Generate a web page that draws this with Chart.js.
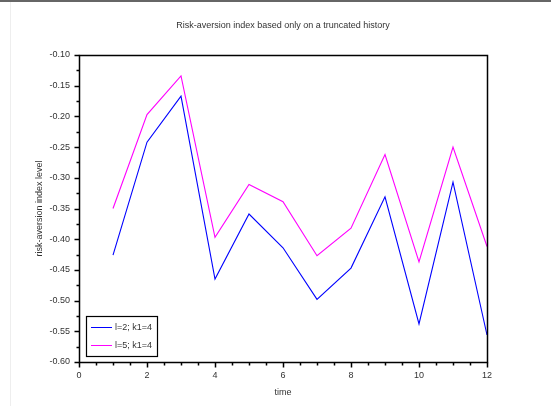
<!DOCTYPE html>
<html>
<head>
<meta charset="utf-8">
<script src="https://cdn.jsdelivr.net/npm/chart.js@4"></script>
<style>
  html, body { margin: 0; padding: 0; background: #fff; }
  canvas { display: block; }
</style>
</head>
<body>
<canvas id="chart" width="551" height="406"></canvas>
<script>
// values
const times = [1, 2, 3, 4, 5, 6, 7, 8, 9, 10, 11, 12];
const seriesL2 = [-0.426, -0.242, -0.167, -0.465, -0.359, -0.414, -0.498, -0.447, -0.331, -0.538, -0.307, -0.556];
const seriesL5 = [-0.350, -0.197, -0.134, -0.397, -0.311, -0.339, -0.427, -0.382, -0.262, -0.437, -0.250, -0.412];
const seriesNames = ["l=2; k1=4", "l=5; k1=4"];
const xTicks = [0, 2, 4, 6, 8, 10, 12];
const yTicks = [-0.60, -0.55, -0.50, -0.45, -0.40, -0.35, -0.30, -0.25, -0.20, -0.15, -0.10];

const TXT = "#333";
const FONT = "'Liberation Sans', Arial, sans-serif";

// white page with the thin frame lines
const framePlugin = {
    id: 'frame',
    beforeDraw(c) {
        const ctx = c.ctx;
        ctx.save();
        ctx.fillStyle = "#fff";
        ctx.fillRect(0, 0, c.width, c.height);
        ctx.fillStyle = "#666";
        ctx.fillRect(0, 0, c.width, 2);
        ctx.fillStyle = "#eee";
        ctx.fillRect(10, 2, 1, c.height);
        ctx.restore();
    }
};

// box round plot, major + minor ticks, legend inside the plot
const axesPlugin = {
    id: 'axesBox',
    afterDraw(c) {
        const ctx = c.ctx, a = c.chartArea;
        const xs = c.scales.x, ys = c.scales.y;
        const L = Math.round(a.left) + 0.5, R = Math.round(a.right) + 0.5;
        const T = Math.round(a.top) + 0.5, B = Math.round(a.bottom) + 0.5;
        ctx.save();
        ctx.strokeStyle = "#000";
        ctx.lineWidth = 1.5;
        ctx.strokeRect(L, T, R - L, B - T);

        ctx.beginPath();
        for (let k = 0; k <= 24; k++) {
            let px = Math.round(xs.getPixelForValue(k * 0.5)) + 0.5;
            let len = k % 4 === 0 ? 5 : 3;
            ctx.moveTo(px, B);
            ctx.lineTo(px, B + len);
        }
        for (let k = 0; k <= 20; k++) {
            let py = Math.round(ys.getPixelForValue(-0.60 + k * 0.025)) + 0.5;
            let len = k % 2 === 0 ? 5 : 3;
            ctx.moveTo(L, py);
            ctx.lineTo(L - len, py);
        }
        ctx.stroke();

        // legend
        const lx = 86, ly = 316, lw = 71, lh = 40;
        ctx.fillStyle = "#fff";
        ctx.fillRect(lx, ly, lw, lh);
        ctx.strokeStyle = "#000";
        ctx.lineWidth = 1.2;
        ctx.strokeRect(lx + 0.5, ly + 0.5, lw, lh);
        ctx.font = "9px " + FONT;
        ctx.textBaseline = "middle";
        ctx.lineWidth = 1;
        c.data.datasets.forEach((ds, i) => {
            let y = ly + 11.5 + i * 18;
            ctx.strokeStyle = ds.borderColor;
            ctx.beginPath();
            ctx.moveTo(lx + 5, y);
            ctx.lineTo(lx + 26, y);
            ctx.stroke();
            ctx.fillStyle = TXT;
            ctx.fillText(ds.label, lx + 29, y);
        });
        ctx.restore();
    }
};

new Chart(document.getElementById('chart'), {
    type: 'line',
    data: {
        datasets: [
            { label: seriesNames[0], data: times.map((t, i) => ({ x: t, y: seriesL2[i] })),
              borderColor: '#0000ff', borderWidth: 1.1, pointRadius: 0, fill: false, tension: 0 },
            { label: seriesNames[1], data: times.map((t, i) => ({ x: t, y: seriesL5[i] })),
              borderColor: '#ff00ff', borderWidth: 1.1, pointRadius: 0, fill: false, tension: 0 }
        ]
    },
    options: {
        responsive: false,
        animation: false,
        devicePixelRatio: 1,
        layout: { padding: { left: 0, top: 0, right: 64, bottom: 0 } },
        plugins: {
            legend: { display: false },
            tooltip: { enabled: false },
            title: {
                display: true,
                fullSize: false,
                text: 'Risk-aversion index based only on a truncated history',
                color: TXT,
                font: { family: FONT, size: 9, weight: 'normal' },
                padding: { top: 20.6, bottom: 23.6 }
            }
        },
        scales: {
            x: {
                type: 'linear',
                min: 0, max: 12,
                afterBuildTicks: s => { s.ticks = xTicks.map(v => ({ value: v })); },
                afterFit: s => { s.height = 44; },
                grid: { display: false, drawTicks: false, tickLength: 0 },
                border: { display: false },
                ticks: { color: TXT, font: { family: FONT, size: 9 }, padding: 8, maxRotation: 0 },
                title: { display: true, text: 'time', color: TXT, font: { family: FONT, size: 9 }, padding: { top: 0, bottom: 7.6 } }
            },
            y: {
                min: -0.60, max: -0.10,
                afterBuildTicks: s => { s.ticks = yTicks.map(v => ({ value: v })); },
                afterFit: s => { s.width = 79; },
                grid: { display: false, drawTicks: false, tickLength: 0 },
                border: { display: false },
                ticks: { color: TXT, font: { family: FONT, size: 9 }, padding: 9, callback: v => v.toFixed(2) },
                title: { display: true, text: 'risk-aversion index level', color: TXT, font: { family: FONT, size: 9 }, padding: { top: 34.6, bottom: 0 } }
            }
        }
    },
    plugins: [framePlugin, axesPlugin]
});
</script>
</body>
</html>
